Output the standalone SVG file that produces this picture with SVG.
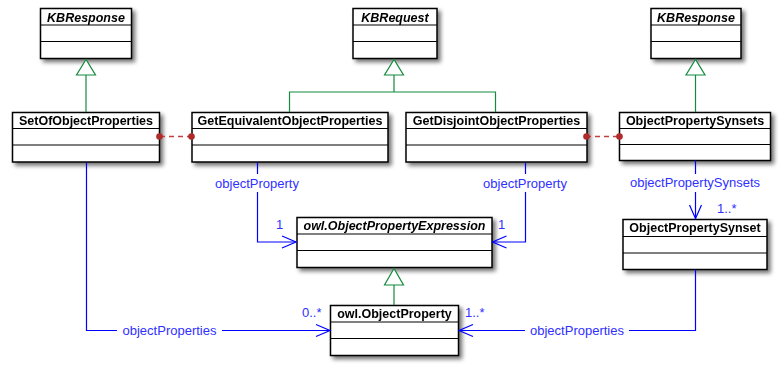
<svg xmlns="http://www.w3.org/2000/svg" width="782" height="370" viewBox="0 0 782 370">
<defs>
<filter id="sh" x="-10%" y="-20%" width="130%" height="160%">
<feGaussianBlur in="SourceAlpha" stdDeviation="2"/>
<feOffset dx="3" dy="3" result="b"/>
<feComponentTransfer><feFuncA type="linear" slope="0.55"/></feComponentTransfer>
<feMerge><feMergeNode/><feMergeNode in="SourceGraphic"/></feMerge>
</filter>
</defs>
<style>
.box{fill:#fff;stroke:#000;stroke-width:1.5}
.sep{stroke:#000;stroke-width:1.2}
.hd{font-family:"Liberation Sans",Arial,sans-serif;font-weight:bold;font-size:12.5px;fill:#000;text-anchor:middle}
.it{font-style:italic}
.gen{fill:none;stroke:#138a3e;stroke-width:1.2}
.tri{fill:#fff;stroke:#138a3e;stroke-width:1.2}
.asc{fill:none;stroke:#0000ff;stroke-width:1.2}
.lbl{font-family:"Liberation Sans",Arial,sans-serif;font-size:13px;fill:#3030ff}
.dash{stroke:#c04040;stroke-width:1.5;stroke-dasharray:5,4;fill:none}
.dot{fill:#b02a2a}
</style>

<g id="KBResponse1" filter="url(#sh)">
  <rect class="box" x="40.5" y="8.5" width="91" height="50"/>
  <path class="sep" d="M40.5,25 H131.5 M40.5,41.5 H131.5"/>
  <text class="hd it" x="86" y="21.5">KBResponse</text>
</g>
<g id="KBRequest" filter="url(#sh)">
  <rect class="box" x="353" y="8.5" width="84" height="50"/>
  <path class="sep" d="M353,25 H437 M353,41.5 H437"/>
  <text class="hd it" x="395" y="21.5">KBRequest</text>
</g>
<g id="KBResponse2" filter="url(#sh)">
  <rect class="box" x="651" y="8.5" width="90" height="50"/>
  <path class="sep" d="M651,25 H741 M651,41.5 H741"/>
  <text class="hd it" x="696" y="21.5">KBResponse</text>
</g>
<g id="SetOfObjectProperties" filter="url(#sh)">
  <rect class="box" x="12.5" y="112.5" width="147" height="49.5"/>
  <path class="sep" d="M12.5,128.5 H159.5 M12.5,145 H159.5"/>
  <text class="hd" x="86" y="125">SetOfObjectProperties</text>
</g>
<g id="GetEquivalentObjectProperties" filter="url(#sh)">
  <rect class="box" x="192" y="112.5" width="196" height="49.5"/>
  <path class="sep" d="M192,128.5 H388 M192,145 H388"/>
  <text class="hd" x="290" y="125">GetEquivalentObjectProperties</text>
</g>
<g id="GetDisjointObjectProperties" filter="url(#sh)">
  <rect class="box" x="406" y="112.5" width="181" height="49.5"/>
  <path class="sep" d="M406,128.5 H587 M406,145 H587"/>
  <text class="hd" x="496.5" y="125">GetDisjointObjectProperties</text>
</g>
<g id="ObjectPropertySynsets" filter="url(#sh)">
  <rect class="box" x="619.5" y="112.5" width="151" height="48"/>
  <path class="sep" d="M619.5,128.5 H770.5 M619.5,144.5 H770.5"/>
  <text class="hd" x="695" y="125">ObjectPropertySynsets</text>
</g>
<g id="ObjectPropertySynset" filter="url(#sh)">
  <rect class="box" x="623" y="219.5" width="144" height="50"/>
  <path class="sep" d="M623,236.5 H767 M623,253 H767"/>
  <text class="hd" x="695" y="232">ObjectPropertySynset</text>
</g>
<g id="ObjectPropertyExpression" filter="url(#sh)">
  <rect class="box" x="297" y="217.5" width="195" height="50"/>
  <path class="sep" d="M297,234 H492 M297,250.5 H492"/>
  <text class="hd it" x="394.5" y="230">owl.ObjectPropertyExpression</text>
</g>
<g id="ObjectProperty" filter="url(#sh)">
  <rect class="box" x="330.5" y="305.5" width="128" height="50"/>
  <path class="sep" d="M330.5,322 H458.5 M330.5,338.5 H458.5"/>
  <text class="hd" x="394.5" y="318">owl.ObjectProperty</text>
</g>

<g id="connectors">
  <!-- generalizations -->
  <path class="gen" d="M86,75 V112"/>
  <polygon class="tri" points="86,59.5 76.5,75 95.5,75"/>
  <path class="gen" d="M394,75 V92 M289.5,112 V92 H495.5 V112"/>
  <polygon class="tri" points="394,59.5 384.5,75 403.5,75"/>
  <path class="gen" d="M695.5,75 V112"/>
  <polygon class="tri" points="695.5,59.5 686,75 705,75"/>
  <path class="gen" d="M394,285 V305"/>
  <polygon class="tri" points="394,268.5 384.5,285 403.5,285"/>
  <!-- dashed links -->
  <path class="dash" d="M160,136.5 H191"/>
  <circle class="dot" cx="159.5" cy="136.5" r="3.3"/>
  <circle class="dot" cx="191.5" cy="136.5" r="3.3"/>
  <path class="dash" d="M586,136.5 H620"/>
  <circle class="dot" cx="586.5" cy="136.5" r="3.3"/>
  <circle class="dot" cx="619.5" cy="136.5" r="3.3"/>
  <!-- associations -->
  <path class="asc" d="M257.5,162.5 V174 M257.5,192 V242 H296"/>
  <path class="asc" d="M282,236 L296,242 L282,248"/>
  <text class="lbl" x="257" y="188" text-anchor="middle">objectProperty</text>
  <text class="lbl" x="276" y="229">1</text>
  <path class="asc" d="M525.5,162.5 V174 M525.5,192 V242 H492.5"/>
  <path class="asc" d="M506.5,236 L492.5,242 L506.5,248"/>
  <text class="lbl" x="525" y="188" text-anchor="middle">objectProperty</text>
  <text class="lbl" x="498" y="229">1</text>
  <path class="asc" d="M695.5,160.5 V174 M695.5,192 V218.5"/>
  <path class="asc" d="M689.5,205 L695.5,218.5 L701.5,205"/>
  <text class="lbl" x="695" y="187" text-anchor="middle">objectPropertySynsets</text>
  <text class="lbl" x="717" y="213">1..*</text>
  <path class="asc" d="M86.5,162.5 V330.5 H117 M222,330.5 H330"/>
  <path class="asc" d="M316,324.5 L330,330.5 L316,336.5"/>
  <text class="lbl" x="169.5" y="335" text-anchor="middle">objectProperties</text>
  <text class="lbl" x="302" y="317">0..*</text>
  <path class="asc" d="M695.5,269.5 V330.5 H629 M525,330.5 H459"/>
  <path class="asc" d="M473,324.5 L459,330.5 L473,336.5"/>
  <text class="lbl" x="577" y="335" text-anchor="middle">objectProperties</text>
  <text class="lbl" x="465" y="317">1..*</text>
</g>
</svg>
